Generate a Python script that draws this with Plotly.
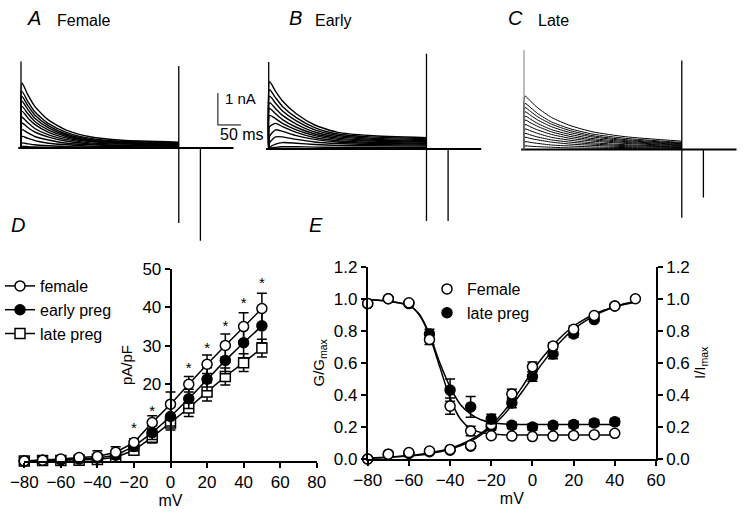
import plotly.graph_objects as go

W, H = 747, 513
FONT = "Arial, Liberation Sans, sans-serif"

# ---------------- Panel D : current density vs voltage ----------------
iv_mv = [-80, -70, -60, -50, -40, -30, -20, -10, 0, 10, 20, 30, 40, 50]
female_pApF = [0, 0.2, 0.5, 0.9, 1.2, 2.3, 4.8, 10.0, 14.8, 20.0, 25.2, 30.1, 35.0, 39.7]
female_err = [0.2, 0.3, 0.4, 0.5, 1.5, 1.4, 1.0, 1.8, 3.2, 2.0, 2.4, 3.0, 3.6, 4.0]
early_pApF = [0, 0.2, 0.3, 0.5, 0.8, 1.5, 3.8, 7.4, 11.6, 16.2, 21.3, 26.2, 30.8, 35.2]
early_err = [0.1, 0.2, 0.3, 0.4, 0.8, 1.0, 1.2, 1.8, 2.5, 2.5, 3.0, 3.5, 4.0, 4.5]
late_pApF = [0, 0.1, 0.1, 0.2, 0.4, 1.0, 2.8, 6.2, 9.9, 13.8, 18.0, 22.0, 25.6, 29.4]
late_err = [0.1, 0.1, 0.2, 0.3, 0.6, 1.0, 1.0, 1.5, 1.8, 2.2, 2.4, 2.2, 2.3, 2.3]
star_mv = [-20, -10, 10, 20, 30, 40, 50]
star_pApF = [8.3, 12.6, 23.8, 29.0, 34.8, 40.8, 46.0]
iv_xticks = [-80, -60, -40, -20, 0, 20, 40, 60, 80]
iv_yticks = [20, 30, 40, 50]

# ---------------- Panel E : activation / inactivation ----------------
ss_mv = [-80, -70, -60, -50, -40, -30, -20, -10, 0, 10, 20, 30, 40]
inact_female = [0.97, 1.0, 0.975, 0.745, 0.33, 0.175, 0.145, 0.143, 0.14, 0.143, 0.147, 0.152, 0.16]
inact_female_err = [0.01, 0.01, 0.01, 0.03, 0.05, 0.03, 0.01, 0.01, 0.01, 0.01, 0.01, 0.01, 0.01]
inact_late = [0.97, 1.0, 0.97, 0.78, 0.43, 0.325, 0.25, 0.21, 0.2, 0.21, 0.215, 0.225, 0.232]
inact_late_err = [0.01, 0.01, 0.01, 0.03, 0.07, 0.065, 0.03, 0.02, 0.02, 0.02, 0.02, 0.02, 0.02]
act_mv = [-80, -70, -60, -50, -40, -30, -20, -10, 0, 10, 20, 30, 40, 50]
act_female = [0.0, 0.03, 0.04, 0.05, 0.06, 0.085, 0.215, 0.405, 0.575, 0.705, 0.81, 0.895, 0.955, 1.0]
act_female_err = [0.005, 0.005, 0.01, 0.01, 0.01, 0.01, 0.02, 0.03, 0.03, 0.02, 0.02, 0.01, 0.01, 0.005]
act_late_mv = [-80, -70, -60, -50, -40, -30, -20, -10, 0, 10, 20, 30, 40]
act_late = [0.0, 0.03, 0.035, 0.045, 0.055, 0.08, 0.2, 0.35, 0.515, 0.655, 0.78, 0.87, 0.955]
act_late_err = [0.005, 0.005, 0.01, 0.01, 0.01, 0.01, 0.02, 0.03, 0.03, 0.03, 0.02, 0.01, 0.01]
fit_inact_mv = [-80, -75, -70, -65, -60, -55, -50, -45, -40, -35, -30, -25, -20, -15, -10, 0, 10, 20, 30, 40]
fit_inact_female = [0.995, 0.99, 0.985, 0.975, 0.96, 0.9, 0.77, 0.575, 0.38, 0.25, 0.19, 0.165, 0.155,
                    0.152, 0.15, 0.15, 0.15, 0.15, 0.15, 0.15]
fit_inact_late = [0.995, 0.99, 0.985, 0.975, 0.96, 0.905, 0.78, 0.60, 0.45, 0.34, 0.28, 0.245, 0.228,
                  0.22, 0.217, 0.215, 0.215, 0.215, 0.215, 0.215]
fit_act_mv = [-80, -70, -60, -50, -40, -30, -25, -20, -15, -10, -5, 0, 5, 10, 15, 20, 25, 30, 35, 40, 45, 50]
fit_act_female = [0.005, 0.012, 0.022, 0.038, 0.065, 0.12, 0.16, 0.21, 0.28, 0.36, 0.45, 0.55, 0.635, 0.71,
                  0.775, 0.83, 0.87, 0.905, 0.93, 0.95, 0.97, 0.985]
fit_act_late = [0.004, 0.01, 0.018, 0.033, 0.06, 0.11, 0.15, 0.20, 0.26, 0.335, 0.42, 0.51, 0.6, 0.68,
                0.75, 0.81, 0.855, 0.895, 0.925, 0.95, 0.965, 0.978]
ss_xticks = [-80, -60, -40, -20, 0, 20, 40, 60]
ss_yticks = [0.0, 0.2, 0.4, 0.6, 0.8, 1.0, 1.2]

# ---------------- Panels A-C : current traces (nA vs ms) ----------------
trace_ms = [0, 2, 15, 30, 60, 100, 150, 220, 343]
female_traces_nA = [
    [0, 2.03, 1.66, 1.30, 0.87, 0.55, 0.35, 0.24, 0.18],
    [0, 1.77, 1.45, 1.13, 0.76, 0.48, 0.30, 0.21, 0.16],
    [0, 1.61, 1.32, 1.03, 0.69, 0.43, 0.27, 0.19, 0.15],
    [0, 1.46, 1.20, 0.93, 0.63, 0.39, 0.25, 0.18, 0.13],
    [0, 1.30, 1.07, 0.83, 0.56, 0.35, 0.22, 0.16, 0.12],
    [0, 1.15, 0.94, 0.74, 0.49, 0.31, 0.20, 0.14, 0.10],
    [0, 0.96, 0.79, 0.61, 0.41, 0.26, 0.16, 0.12, 0.09],
    [0, 0.78, 0.64, 0.50, 0.34, 0.21, 0.13, 0.09, 0.07],
    [0, 0.57, 0.47, 0.36, 0.25, 0.15, 0.10, 0.07, 0.05],
    [0, 0.36, 0.30, 0.23, 0.15, 0.10, 0.06, 0.04, 0.03],
    [0, 0.16, 0.13, 0.10, 0.07, 0.04, 0.03, 0.02, 0.01],
    [0, 0.05, 0.04, 0.03, 0.02, 0.01, 0.01, 0.00, 0.00],
]
early_traces_nA = [
    [0, 2.10, 1.80, 1.50, 1.10, 0.75, 0.52, 0.42, 0.35],
    [0, 1.85, 1.60, 1.33, 0.98, 0.67, 0.47, 0.38, 0.32],
    [0, 1.65, 1.43, 1.19, 0.88, 0.60, 0.42, 0.34, 0.29],
    [0, 1.45, 1.26, 1.05, 0.78, 0.53, 0.38, 0.31, 0.26],
    [0, 1.27, 1.10, 0.92, 0.68, 0.47, 0.34, 0.28, 0.23],
    [0, 1.05, 0.95, 0.80, 0.60, 0.42, 0.30, 0.25, 0.21],
    [0, 0.70, 0.80, 0.70, 0.52, 0.36, 0.26, 0.21, 0.18],
    [0, 0.40, 0.60, 0.55, 0.42, 0.30, 0.22, 0.18, 0.15],
    [0, 0.20, 0.38, 0.38, 0.30, 0.22, 0.17, 0.14, 0.12],
    [0, 0.05, 0.15, 0.20, 0.18, 0.14, 0.11, 0.10, 0.09],
    [0, 0.02, 0.05, 0.07, 0.07, 0.06, 0.05, 0.05, 0.05],
]
late_traces_nA = [
    [0, 1.67, 1.50, 1.30, 1.00, 0.75, 0.55, 0.40, 0.26],
    [0, 1.44, 1.30, 1.12, 0.86, 0.65, 0.48, 0.35, 0.22],
    [0, 1.31, 1.18, 1.02, 0.79, 0.59, 0.43, 0.31, 0.20],
    [0, 1.18, 1.06, 0.92, 0.71, 0.53, 0.39, 0.28, 0.18],
    [0, 1.04, 0.94, 0.81, 0.62, 0.47, 0.34, 0.25, 0.16],
    [0, 0.92, 0.83, 0.72, 0.55, 0.41, 0.30, 0.22, 0.14],
    [0, 0.78, 0.70, 0.61, 0.47, 0.35, 0.26, 0.19, 0.12],
    [0, 0.64, 0.58, 0.50, 0.38, 0.29, 0.21, 0.15, 0.10],
    [0, 0.50, 0.45, 0.39, 0.30, 0.23, 0.17, 0.12, 0.08],
    [0, 0.38, 0.34, 0.30, 0.23, 0.17, 0.13, 0.09, 0.06],
    [0, 0.24, 0.22, 0.19, 0.14, 0.11, 0.08, 0.06, 0.04],
    [0, 0.11, 0.10, 0.09, 0.07, 0.05, 0.04, 0.03, 0.02],
]
baseline_ms = [-6, 462]
spike_ms = [0, 343, 390]
female_spike_top = [2.7, 2.56, 0.0]
female_spike_bottom = [0.0, -2.34, -2.9]
early_spike_top = [2.72, 2.98, 0.0]
early_spike_bottom = [0.0, -2.25, -2.25]
late_spike_top = [3.1, 2.78, 0.0]
late_spike_bottom = [0.0, -2.13, -1.5]
scalebar_ms = 50
scalebar_nA = 1

# ---------------- geometry helpers (pixel -> paper) ----------------
MS_PX, NA_PX = 0.46, 32.0
TRACE_X = [-10, 490]
TRACE_Y = [-3.3, 3.3]


def xdom(origin_px, scale, rng):
    return [(origin_px + rng[0] * scale) / W, (origin_px + rng[1] * scale) / W]


def ydom(origin_px, scale, rng):
    return [1 - (origin_px - rng[0] * scale) / H, 1 - (origin_px - rng[1] * scale) / H]


def px(x):
    return x / W


def py(y):
    return 1 - y / H


fig = go.Figure()

# ---- current traces ----
panels = [
    ("4", female_traces_nA, female_spike_top, female_spike_bottom, 1.4, "black", "black"),
    ("5", early_traces_nA, early_spike_top, early_spike_bottom, 1.4, "black", "black"),
    ("6", late_traces_nA, late_spike_top, late_spike_bottom, 1.0, "black", "#9a9a9a"),
]
for ax, traces, s_top, s_bot, lw, col, first_col in panels:
    xa, ya = "x" + ax, "y" + ax
    for tr in traces:
        fig.add_trace(go.Scatter(x=trace_ms, y=tr, mode="lines", xaxis=xa, yaxis=ya,
                                 line=dict(color=col, width=lw, shape="spline", smoothing=0.6),
                                 showlegend=False, hoverinfo="skip"))
    fig.add_trace(go.Scatter(x=baseline_ms, y=[0, 0], mode="lines", xaxis=xa, yaxis=ya,
                             line=dict(color="black", width=2.2), showlegend=False, hoverinfo="skip"))
    for i, t in enumerate(spike_ms):
        fig.add_trace(go.Scatter(x=[t, t], y=[s_bot[i], s_top[i]], mode="lines", xaxis=xa, yaxis=ya,
                                 line=dict(color=first_col if i == 0 else "black", width=1.3),
                                 showlegend=False, hoverinfo="skip"))

# scale bar on panel A axes
sb_t0 = spike_ms[1] + 85
sb_y0 = 0.72
fig.add_trace(go.Scatter(x=[sb_t0, sb_t0, sb_t0 + scalebar_ms], y=[sb_y0 + scalebar_nA, sb_y0, sb_y0],
                         mode="lines", xaxis="x4", yaxis="y4", line=dict(color="black", width=1),
                         showlegend=False, hoverinfo="skip"))

# ---- Panel D ----
d_series = [
    ("late preg", late_pApF, late_err, "square", "white", 3),
    ("early preg", early_pApF, early_err, "circle", "black", 2),
    ("female", female_pApF, female_err, "circle", "white", 1),
]
for name, vals, err, sym, fill, rank in d_series:
    fig.add_trace(go.Scatter(
        x=iv_mv, y=vals, name=name, mode="lines+markers", xaxis="x", yaxis="y",
        line=dict(color="black", width=1.5),
        marker=dict(symbol=sym, size=10, color=fill, line=dict(color="black", width=1.5)),
        error_y=dict(type="data", array=err, color="black", thickness=1.5, width=5),
        legend="legend", legendrank=rank, cliponaxis=False, hoverinfo="skip"))
fig.add_trace(go.Scatter(x=star_mv, y=star_pApF, mode="text", text=["*"] * len(star_mv),
                         textfont=dict(family=FONT, size=15, color="black"), xaxis="x", yaxis="y",
                         showlegend=False, cliponaxis=False, hoverinfo="skip"))

# ---- Panel E ----
for fvals in [fit_inact_female, fit_inact_late]:
    fig.add_trace(go.Scatter(x=fit_inact_mv, y=fvals, mode="lines", xaxis="x2", yaxis="y3",
                             line=dict(color="black", width=1.5, shape="spline", smoothing=0.8),
                             showlegend=False, hoverinfo="skip"))
for fvals in [fit_act_female, fit_act_late]:
    fig.add_trace(go.Scatter(x=fit_act_mv, y=fvals, mode="lines", xaxis="x2", yaxis="y2",
                             line=dict(color="black", width=1.5, shape="spline", smoothing=0.8),
                             showlegend=False, hoverinfo="skip"))

e_series = [
    (act_late_mv, act_late, act_late_err, "black", "y2", False, "late preg"),
    (ss_mv, inact_late, inact_late_err, "black", "y3", True, "late preg"),
    (act_mv, act_female, act_female_err, "white", "y2", True, "Female"),
    (ss_mv, inact_female, inact_female_err, "white", "y3", False, "Female"),
]
for xs, ys, err, fill, yax, show, name in e_series:
    fig.add_trace(go.Scatter(
        x=xs, y=ys, mode="markers", xaxis="x2", yaxis=yax, name=name,
        marker=dict(symbol="circle", size=10, color=fill, line=dict(color="black", width=1.5)),
        error_y=dict(type="data", array=err, color="black", thickness=1.5, width=5),
        showlegend=show, legend="legend2", legendrank=1 if name == "Female" else 2,
        cliponaxis=False, hoverinfo="skip"))

# ---------------- layout ----------------
D_X = [24.3, 316.7]
D_Y = [461, 269]
E_X = [367.7, 656]
E_Y = [459, 266.7]
d_xrange = [-80, 80]
d_dom = [px(D_X[0]), px(D_X[1])]
d_ypos = d_dom[0] + (0 - d_xrange[0]) / (d_xrange[1] - d_xrange[0]) * (d_dom[1] - d_dom[0])

axis_common = dict(showgrid=False, zeroline=False, showline=True, linecolor="black", linewidth=1.6,
                   ticks="outside", ticklen=5, tickwidth=1.5, tickcolor="black",
                   tickfont=dict(family=FONT, size=17, color="black"), automargin=False)
hidden = dict(visible=False, showgrid=False, zeroline=False, fixedrange=True)

fig.update_layout(
    width=W, height=H, margin=dict(l=0, r=0, t=0, b=0),
    paper_bgcolor="white", plot_bgcolor="rgba(0,0,0,0)",
    font=dict(family=FONT, size=16, color="black"),
    xaxis=dict(axis_common, domain=d_dom, range=d_xrange, tickvals=iv_xticks, anchor="y",
               title=dict(text="mV", font=dict(size=16), standoff=4)),
    yaxis=dict(axis_common, domain=[py(D_Y[0]), py(D_Y[1])], range=[0, 50], tickvals=iv_yticks,
               anchor="free", position=d_ypos,
               title=dict(text="pA/pF", font=dict(size=15), standoff=5)),
    xaxis2=dict(axis_common, domain=[px(E_X[0]), px(E_X[1])], range=[-80, 60], tickvals=ss_xticks,
                anchor="y2", title=dict(text="mV", font=dict(size=16), standoff=4)),
    yaxis2=dict(axis_common, domain=[py(E_Y[0]), py(E_Y[1])], range=[0, 1.2], tickvals=ss_yticks,
                tickformat=".1f", anchor="x2",
                title=dict(text="G/G<sub>max</sub>", font=dict(size=15), standoff=6)),
    yaxis3=dict(axis_common, domain=[py(E_Y[0]), py(E_Y[1])], range=[0, 1.2], tickvals=ss_yticks,
                tickformat=".1f", anchor="x2", overlaying="y2", side="right",
                title=dict(text="I/I<sub>max</sub>", font=dict(size=15), standoff=6)),
    xaxis4=dict(hidden, domain=xdom(21, MS_PX, TRACE_X), range=TRACE_X),
    yaxis4=dict(hidden, domain=ydom(148, NA_PX, TRACE_Y), range=TRACE_Y),
    xaxis5=dict(hidden, domain=xdom(268.7, MS_PX, [-10, 470]), range=[-10, 470]),
    yaxis5=dict(hidden, domain=ydom(149, NA_PX, TRACE_Y), range=TRACE_Y),
    xaxis6=dict(hidden, domain=xdom(524, MS_PX, [-10, 470]), range=[-10, 470]),
    yaxis6=dict(hidden, domain=ydom(149.5, NA_PX, TRACE_Y), range=TRACE_Y),
    legend=dict(x=px(0), y=py(269), xanchor="left", yanchor="top", bgcolor="rgba(0,0,0,0)",
                font=dict(family=FONT, size=16, color="black"), itemwidth=30, traceorder="normal"),
    legend2=dict(x=px(427), y=py(272), xanchor="left", yanchor="top", bgcolor="rgba(0,0,0,0)",
                 font=dict(family=FONT, size=16, color="black"), itemwidth=30, traceorder="normal"),
)

labels = [
    ("<i>A</i>", 34, 18, 20, "center"), ("Female", 55, 20, 16, "left"),
    ("<i>B</i>", 295, 18, 20, "center"), ("Early", 313, 20, 16, "left"),
    ("<i>C</i>", 515, 18, 20, "center"), ("Late", 536, 20, 16, "left"),
    ("<i>D</i>", 18, 225, 20, "center"), ("<i>E</i>", 316, 225, 20, "center"),
    ("1 nA", 223, 99, 15, "left"), ("50 ms", 218, 135, 16, "left"),
]
for txt, x, y, sz, anc in labels:
    fig.add_annotation(text=txt, x=px(x), y=py(y), xref="paper", yref="paper", showarrow=False,
                       xanchor=anc, yanchor="middle", font=dict(family=FONT, size=sz, color="black"))

fig.write_html("out.html", config={"displayModeBar": False},
               post_script="document.body.style.margin='0px';")
